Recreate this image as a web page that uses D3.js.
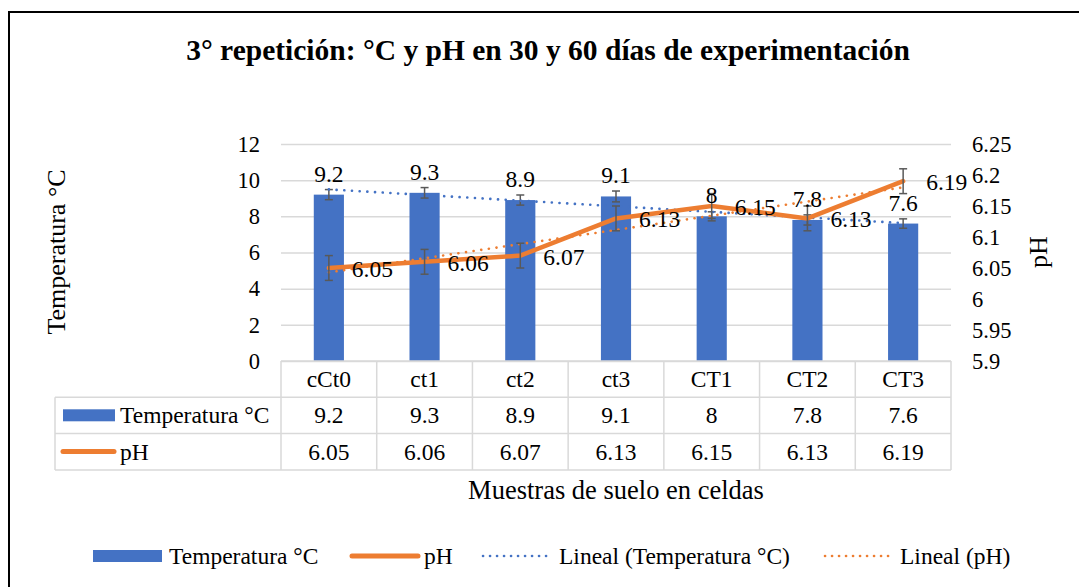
<!DOCTYPE html>
<html>
<head>
<meta charset="utf-8">
<script src="https://cdn.jsdelivr.net/npm/d3@7"></script>
<style>
  body { margin: 0; background: #fff; }
  svg text { font-family: "Liberation Serif", "Times New Roman", serif !important; fill: #000; }
</style>
</head>
<body>
<div id="chart"></div>
<script>
"use strict";

const categories = ["cCt0", "ct1", "ct2", "ct3", "CT1", "CT2", "CT3"];
const temperatura = [9.2, 9.3, 8.9, 9.1, 8, 7.8, 7.6];
const ph = [6.05, 6.06, 6.07, 6.13, 6.15, 6.13, 6.19];
const tempError = [0.28, 0.29, 0.28, 0.3, 0.25, 0.28, 0.26];
const phError = [0.02, 0.02, 0.02, 0.02, 0.02, 0.02, 0.02];
const tempTicks = [0, 2, 4, 6, 8, 10, 12];
const phTicks = [5.9, 5.95, 6, 6.05, 6.1, 6.15, 6.2, 6.25];

const title = "3° repetición: °C y pH en 30 y 60 días de experimentación";
const seriesNames = ["Temperatura °C", "pH", "Lineal (Temperatura °C)", "Lineal (pH)"];

const size = {
  width: 1079,
  height: 587,
  left: 281,
  right: 951,
  top: 144,
  bottom: 361,
  rowHeight: 36.3,
  tableLeft: 55
};

const blue = "#4472C4";
const orange = "#ED7D31";
const grid = "#d9d9d9";
const fs = "23.5px";

let svg = d3.select("#chart").append("svg")
  .attr("width", size.width)
  .attr("height", size.height);

// outer frame (only left and top visible in the picture)
svg.append("rect")
  .attr("x", 9).attr("y", 12)
  .attr("width", 1200).attr("height", 700)
  .attr("fill", "none")
  .attr("stroke", "#000")
  .attr("stroke-width", 2);

let x = d3.scaleBand().domain(categories).range([size.left, size.right]);
let yT = d3.scaleLinear().domain([0, 12]).range([size.bottom, size.top]);
let yP = d3.scaleLinear().domain([5.9, 6.25]).range([size.bottom, size.top]);
let cx = (c) => x(c) + x.bandwidth() / 2;

drawAxes();
plotData();
drawTable();
drawLegend();
makeLabels();

function drawAxes() {
  let gridAxis = d3.axisLeft(yT).tickValues(tempTicks)
    .tickSize(-(size.right - size.left)).tickFormat("");
  svg.append("g")
    .attr("transform", "translate(" + size.left + ",0)")
    .call(gridAxis)
    .call(g => g.select(".domain").remove())
    .call(g => g.selectAll("line").attr("stroke", grid).attr("stroke-width", 1.5));

  let leftAxis = d3.axisLeft(yT).tickValues(tempTicks).tickSize(0).tickPadding(21);
  svg.append("g")
    .attr("transform", "translate(" + size.left + ",0)")
    .call(leftAxis)
    .call(g => g.select(".domain").remove())
    .call(g => g.selectAll("text").style("font-size", "22.5px"));

  let rightAxis = d3.axisRight(yP).tickValues(phTicks).tickSize(0).tickPadding(21)
    .tickFormat(d3.format(""));
  svg.append("g")
    .attr("transform", "translate(" + size.right + ",0)")
    .call(rightAxis)
    .call(g => g.select(".domain").remove())
    .call(g => g.selectAll("text").style("font-size", "22.5px"));
}

function errorBar(g, xc, y1, y2) {
  g.append("line").attr("x1", xc).attr("x2", xc).attr("y1", y1).attr("y2", y2);
  g.append("line").attr("x1", xc - 4).attr("x2", xc + 4).attr("y1", y1).attr("y2", y1);
  g.append("line").attr("x1", xc - 4).attr("x2", xc + 4).attr("y1", y2).attr("y2", y2);
}

function trend(values) {
  let n = values.length;
  let xs = values.map((v, i) => i + 1);
  let mx = d3.mean(xs), my = d3.mean(values);
  let sxy = d3.sum(values, (v, i) => (xs[i] - mx) * (v - my));
  let sxx = d3.sum(xs, (xi) => (xi - mx) * (xi - mx));
  let b = sxy / sxx, a = my - b * mx;
  return [a + b * 1, a + b * n];
}

function plotData() {
  let barW = x.bandwidth() * 0.315;

  svg.selectAll(".bar")
    .data(temperatura)
    .enter()
    .append("rect")
    .attr("class", "bar")
    .attr("x", (d, i) => cx(categories[i]) - barW / 2)
    .attr("y", (d) => yT(d))
    .attr("width", barW)
    .attr("height", (d) => yT(0) - yT(d))
    .attr("fill", blue);

  let eb = svg.append("g").attr("stroke", "#595959").attr("stroke-width", 1.5);
  temperatura.forEach((d, i) => {
    errorBar(eb, cx(categories[i]), yT(d + tempError[i]), yT(d - tempError[i]));
  });

  // trend lines
  let tT = trend(temperatura);
  svg.append("line")
    .attr("x1", cx(categories[0])).attr("x2", cx(categories[categories.length - 1]))
    .attr("y1", yT(tT[0])).attr("y2", yT(tT[1]))
    .attr("stroke", blue).attr("stroke-width", 2.6)
    .attr("stroke-linecap", "round").attr("stroke-dasharray", "0.1 7.6");

  let line = d3.line()
    .x((d, i) => cx(categories[i]))
    .y((d) => yP(d));
  svg.append("path")
    .datum(ph)
    .attr("d", line)
    .attr("fill", "none")
    .attr("stroke", orange)
    .attr("stroke-width", 4.5)
    .attr("stroke-linejoin", "round")
    .attr("stroke-linecap", "round");

  let tP = trend(ph);
  svg.append("line")
    .attr("x1", cx(categories[0])).attr("x2", cx(categories[categories.length - 1]))
    .attr("y1", yP(tP[0])).attr("y2", yP(tP[1]))
    .attr("stroke", orange).attr("stroke-width", 2.6)
    .attr("stroke-linecap", "round").attr("stroke-dasharray", "0.1 7.6");

  let ebp = svg.append("g").attr("stroke", "#595959").attr("stroke-width", 1.5);
  ph.forEach((d, i) => {
    errorBar(ebp, cx(categories[i]), yP(d + phError[i]), yP(d - phError[i]));
  });

  svg.selectAll(".tlabel")
    .data(temperatura)
    .enter()
    .append("text")
    .attr("class", "tlabel")
    .attr("x", (d, i) => cx(categories[i]))
    .attr("y", (d) => yT(d) - 13)
    .attr("text-anchor", "middle")
    .style("font-size", fs)
    .text((d) => d);

  svg.selectAll(".plabel")
    .data(ph)
    .enter()
    .append("text")
    .attr("class", "plabel")
    .attr("x", (d, i) => cx(categories[i]) + 23)
    .attr("y", (d) => yP(d) + 9)
    .style("font-size", fs)
    .text((d) => d);
}

function drawTable() {
  let t = svg.append("g");
  let rh = size.rowHeight;
  let y0 = size.bottom;
  let lines = t.append("g").attr("stroke", grid).attr("stroke-width", 1.5);

  lines.append("line").attr("x1", size.left).attr("x2", size.right).attr("y1", y0).attr("y2", y0);
  [1, 2, 3].forEach((r) => {
    lines.append("line").attr("x1", size.tableLeft).attr("x2", size.right)
      .attr("y1", y0 + r * rh).attr("y2", y0 + r * rh);
  });
  lines.append("line").attr("x1", size.tableLeft).attr("x2", size.tableLeft)
    .attr("y1", y0 + rh).attr("y2", y0 + 3 * rh);
  categories.concat([null]).forEach((c, i) => {
    let xx = size.left + i * x.bandwidth();
    lines.append("line").attr("x1", xx).attr("x2", xx).attr("y1", y0).attr("y2", y0 + 3 * rh);
  });

  let rows = [categories, temperatura, ph];
  rows.forEach((row, r) => {
    t.selectAll(".cell" + r)
      .data(row)
      .enter()
      .append("text")
      .attr("x", (d, i) => cx(categories[i]))
      .attr("y", y0 + r * rh + rh / 2 + 8)
      .attr("text-anchor", "middle")
      .style("font-size", fs)
      .text((d) => d);
  });

  // legend keys in the table
  t.append("rect")
    .attr("x", 63).attr("y", y0 + rh + 12)
    .attr("width", 52).attr("height", 12)
    .attr("fill", blue);
  t.append("text").attr("x", 120).attr("y", y0 + rh + rh / 2 + 8)
    .style("font-size", fs).text(seriesNames[0]);
  t.append("line")
    .attr("x1", 63).attr("x2", 114)
    .attr("y1", y0 + 2 * rh + 18).attr("y2", y0 + 2 * rh + 18)
    .attr("stroke", orange).attr("stroke-width", 5).attr("stroke-linecap", "round");
  t.append("text").attr("x", 120).attr("y", y0 + 2 * rh + rh / 2 + 8)
    .style("font-size", fs).text(seriesNames[1]);
}

function drawLegend() {
  let ly = 556;
  let g = svg.append("g");
  g.append("rect").attr("x", 93).attr("y", ly - 6).attr("width", 69).attr("height", 12).attr("fill", blue);
  g.append("line").attr("x1", 352).attr("x2", 418).attr("y1", ly).attr("y2", ly)
    .attr("stroke", orange).attr("stroke-width", 5).attr("stroke-linecap", "round");
  g.append("line").attr("x1", 483).attr("x2", 553).attr("y1", ly).attr("y2", ly)
    .attr("stroke", blue).attr("stroke-width", 2.6)
    .attr("stroke-linecap", "round").attr("stroke-dasharray", "0.1 6.9");
  g.append("line").attr("x1", 825).attr("x2", 895).attr("y1", ly).attr("y2", ly)
    .attr("stroke", orange).attr("stroke-width", 2.6)
    .attr("stroke-linecap", "round").attr("stroke-dasharray", "0.1 6.9");

  let textX = [169, 424, 559, 900];
  g.selectAll(".leg")
    .data(seriesNames)
    .enter()
    .append("text")
    .attr("x", (d, i) => textX[i])
    .attr("y", ly + 8)
    .style("font-size", fs)
    .text((d) => d);
}

function makeLabels() {
  svg.append("text")
    .attr("x", 548)
    .attr("y", 60)
    .attr("text-anchor", "middle")
    .style("font-size", "29.5px")
    .style("font-weight", "bold")
    .text(title);

  svg.append("text")
    .attr("transform", "translate(65," + 252 + ") rotate(-90)")
    .attr("text-anchor", "middle")
    .style("font-size", "26px")
    .text("Temperatura °C");

  svg.append("text")
    .attr("transform", "translate(1047," + 252 + ") rotate(-90)")
    .attr("text-anchor", "middle")
    .style("font-size", "26px")
    .text("pH");

  svg.append("text")
    .attr("x", 616)
    .attr("y", 499)
    .attr("text-anchor", "middle")
    .style("font-size", "26.5px")
    .text("Muestras de suelo en celdas");
}
</script>
</body>
</html>
